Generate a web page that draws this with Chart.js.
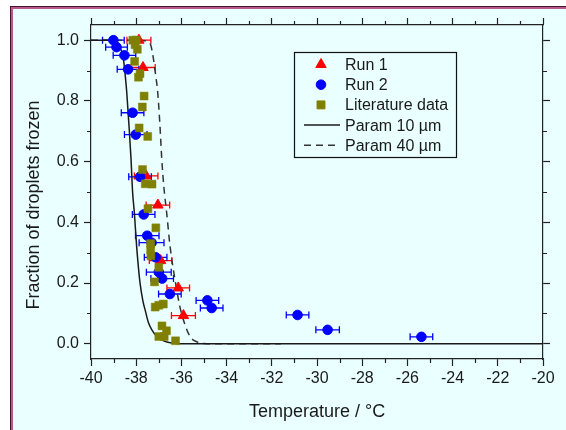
<!DOCTYPE html>
<html>
<head>
<meta charset="utf-8">
<script src="https://cdn.jsdelivr.net/npm/chart.js@4.4.1/dist/chart.umd.min.js"></script>
<style>
  html, body { margin: 0; padding: 0; background: #fff; }
  #wrap { position: relative; width: 566px; height: 430px; overflow: hidden; }
  #frame { position: absolute; left: 10px; top: 6px; right: 0; bottom: 0; background: #EAFFFF;
           border-left: 1px solid #4a1030; border-top: 1px solid #4a1030; }
  #frame div { position: absolute; left: 0; top: 0; right: 0; bottom: 0;
               border-left: 2px solid #b65a8a; border-top: 2px solid #b65a8a; }
  canvas { position: absolute; left: 0; top: 0; }
</style>
</head>
<body>
<div id="wrap">
  <div id="frame"><div></div></div>
  <canvas id="chart" width="566" height="430"></canvas>
</div>
<script>
const run1Temp = [-37.88, -37.70, -37.56, -37.04, -36.92, -36.14, -35.91];
const run1Frac = [1.0, 0.91, 0.553, 0.457, 0.274, 0.184, 0.093];
const run1Err  = [0.53, 0.54, 0.52, 0.52, 0.5, 0.5, 0.53];

const run2Temp = [-39.01, -38.87, -38.52, -38.36, -38.16, -38.02, -37.83, -37.67, -37.51, -37.32,
                  -37.14, -37.0, -36.85, -36.51, -34.85, -34.66, -30.86, -29.53, -25.38];
const run2Frac = [1.0, 0.977, 0.950, 0.904, 0.761, 0.689, 0.550, 0.426, 0.356, 0.333,
                  0.285, 0.236, 0.215, 0.164, 0.143, 0.118, 0.095, 0.046, 0.023];
const run2Err  = [0.48, 0.48, 0.5, 0.48, 0.5, 0.5, 0.5, 0.5, 0.52, 0.55,
                  0.5, 0.55, 0.5, 0.5, 0.5, 0.5, 0.5, 0.52, 0.5];

const litTemp = [-38.15, -38.0, -38.05, -37.95, -38.07, -37.83, -37.9, -37.65, -37.73, -37.87,
                 -37.49, -37.72, -37.6, -37.3, -37.48, -37.13, -37.36, -37.36, -37.35, -37.0,
                 -37.19, -37.16, -37.0, -36.8, -36.86, -36.66, -37.0, -36.76, -36.26];
const litFrac = [1.0, 1.0, 0.985, 0.97, 0.93, 0.89, 0.878, 0.816, 0.78, 0.711,
                 0.683, 0.574, 0.527, 0.526, 0.445, 0.382, 0.33, 0.31, 0.29, 0.252,
                 0.204, 0.121, 0.127, 0.131, 0.059, 0.043, 0.024, 0.024, 0.01];

// parameterisation curves
const param10Temp = [-40, -39.2, -38.95, -38.8, -38.68, -38.57, -38.48, -38.42, -38.32, -38.23,
                     -38.16, -38.08, -37.98, -37.9, -37.83, -37.7, -37.6, -37.46, -37.3, -37.1,
                     -36.85, -36.6, -36.2, -35.5, -20];
const param10Frac = [1.0, 1.0, 0.998, 0.99, 0.97, 0.94, 0.88, 0.83, 0.72, 0.61,
                     0.5, 0.43, 0.32, 0.25, 0.2, 0.14, 0.11, 0.07, 0.045, 0.025,
                     0.012, 0.005, 0.001, 0, 0];

const param40Temp = [-40, -38.0, -37.6, -37.45, -37.36, -37.24, -37.14, -37.05, -36.95, -36.87,
                     -36.78, -36.65, -36.5, -36.28, -36.06, -35.8, -35.59, -35.3, -35.0, -34.5, -31.6];
const param40Frac = [1.0, 1.0, 0.998, 0.993, 0.985, 0.94, 0.885, 0.83, 0.72, 0.61,
                     0.52, 0.43, 0.32, 0.21, 0.12, 0.054, 0.021, 0.006, 0.001, 0, 0];

const xTicks = [-40, -38, -36, -34, -32, -30, -28, -26, -24, -22, -20];
const xMinor = [-39, -37, -35, -33, -31, -29, -27, -25, -23, -21];
const yTicks = [0, 0.2, 0.4, 0.6, 0.8, 1.0];
const yMinor = [0.1, 0.3, 0.5, 0.7, 0.9];

const yTitle = 'Fraction of droplets frozen';

const FONT = '"Liberation Sans", Arial, sans-serif';
const INK = '#1a1a1a';

function toPoints(xs, ys) {
  return xs.map((x, i) => ({ x: x, y: ys[i] }));
}

// horizontal error bars with end caps
const errorBars = {
  id: 'errorBars',
  beforeDatasetsDraw(chart) {
    const { ctx, scales: { x, y } } = chart;
    ctx.save();
    ctx.beginPath();
    ctx.rect(chart.chartArea.left, chart.chartArea.top, chart.chartArea.width, chart.chartArea.height);
    ctx.clip();
    chart.data.datasets.forEach(ds => {
      if (!ds.xErr) return;
      ctx.strokeStyle = ds.borderColor;
      ctx.lineWidth = 1.3;
      ds.data.forEach((p, j) => {
        const x0 = x.getPixelForValue(p.x - ds.xErr[j]);
        const x1 = x.getPixelForValue(p.x + ds.xErr[j]);
        const py = y.getPixelForValue(p.y);
        ctx.beginPath();
        ctx.moveTo(x0, py); ctx.lineTo(x1, py);
        ctx.moveTo(x0, py - 3.5); ctx.lineTo(x0, py + 3.5);
        ctx.moveTo(x1, py - 3.5); ctx.lineTo(x1, py + 3.5);
        ctx.stroke();
      });
    });
    ctx.restore();
  }
};

// short minor ticks on all four sides, plus the y title (sits a bit below centre)
const minorTicks = {
  id: 'minorTicks',
  afterDraw(chart) {
    const { ctx, chartArea: a, scales: { x, y } } = chart;
    ctx.save();
    ctx.strokeStyle = '#222';
    ctx.lineWidth = 1.2;
    ctx.beginPath();
    xMinor.forEach(v => {
      const px = Math.round(x.getPixelForValue(v)) + 0.5;
      ctx.moveTo(px, a.bottom); ctx.lineTo(px, a.bottom + 4);
      ctx.moveTo(px, a.top); ctx.lineTo(px, a.top - 4);
    });
    yMinor.forEach(v => {
      const py = Math.round(y.getPixelForValue(v)) + 0.5;
      ctx.moveTo(a.left, py); ctx.lineTo(a.left - 4, py);
      ctx.moveTo(a.right, py); ctx.lineTo(a.right + 4, py);
    });
    ctx.stroke();

    ctx.translate(34, 205);
    ctx.rotate(-Math.PI / 2);
    ctx.font = '18px ' + FONT;
    ctx.fillStyle = INK;
    ctx.textAlign = 'center';
    ctx.textBaseline = 'middle';
    ctx.fillText(yTitle, 0, 0);
    ctx.restore();
  }
};

// boxed legend inside the plot
const boxLegend = {
  id: 'boxLegend',
  afterDraw(chart) {
    const ctx = chart.ctx;
    ctx.save();
    ctx.fillStyle = '#EAFFFF';
    ctx.fillRect(294.5, 52.5, 162, 105);
    ctx.strokeStyle = '#111';
    ctx.lineWidth = 1.2;
    ctx.strokeRect(294.5, 52.5, 162, 105);
    ctx.font = '16px ' + FONT;
    ctx.textBaseline = 'middle';
    chart.data.datasets.forEach((ds, i) => {
      const cy = 64.5 + i * 20.2;
      if (ds.showLine) {
        ctx.strokeStyle = ds.borderColor;
        ctx.lineWidth = ds.borderWidth;
        ctx.setLineDash(ds.borderDash || []);
        ctx.beginPath();
        ctx.moveTo(304, cy); ctx.lineTo(340, cy);
        ctx.stroke();
        ctx.setLineDash([]);
      } else {
        ctx.fillStyle = ds.backgroundColor;
        ctx.strokeStyle = ds.borderColor;
        ctx.lineWidth = 1;
        Chart.helpers.drawPoint(ctx, { pointStyle: ds.pointStyle, radius: ds.pointRadius, rotation: 0, borderWidth: 1 }, 321, cy);
      }
      ctx.fillStyle = INK;
      ctx.fillText(ds.label, 345, cy + 1);
    });
    ctx.restore();
  }
};

function linearAxis(pos, min, max, ticks, size) {
  const horizontal = pos === 'top' || pos === 'bottom';
  return {
    type: 'linear',
    position: pos,
    min: min,
    max: max,
    afterBuildTicks: s => { s.ticks = ticks.map(v => ({ value: v })); },
    afterFit: s => { if (horizontal) s.height = size; else s.width = size; },
    grid: { drawOnChartArea: false, drawTicks: true, tickLength: 7, tickColor: '#222', tickWidth: 1.2 },
    border: { display: true, color: '#222', width: 1.2 },
    ticks: { display: false }
  };
}

const xAxis = linearAxis('bottom', -40, -20, xTicks, 71);
xAxis.ticks = { display: true, font: { family: FONT, size: 16 }, color: INK, padding: 3, maxRotation: 0, autoSkip: false };
xAxis.title = { display: true, text: 'Temperature / °C', font: { family: FONT, size: 18 }, color: INK, padding: { top: 0, bottom: 7 } };

const yAxis = linearAxis('left', -0.05, 1.05, yTicks, 91);
yAxis.ticks = { display: true, font: { family: FONT, size: 16 }, color: INK, padding: 5, autoSkip: false,
                callback: v => v.toFixed(1) };

new Chart(document.getElementById('chart'), {
  type: 'scatter',
  data: {
    datasets: [
      { label: 'Run 1', data: toPoints(run1Temp, run1Frac), xErr: run1Err, pointStyle: 'triangle', pointRadius: 6,
        backgroundColor: '#FF0000', borderColor: '#FF0000', borderWidth: 1, order: 2 },
      { label: 'Run 2', data: toPoints(run2Temp, run2Frac), xErr: run2Err, pointStyle: 'circle', pointRadius: 4.8,
        backgroundColor: '#0000FF', borderColor: '#0000FF', borderWidth: 1, order: 1 },
      { label: 'Literature data', data: toPoints(litTemp, litFrac), pointStyle: 'rect', pointRadius: 5.6,
        backgroundColor: '#808000', borderColor: '#808000', borderWidth: 0.5, order: 0 },
      { label: 'Param 10 µm', data: toPoints(param10Temp, param10Frac), showLine: true, pointRadius: 0,
        borderColor: '#1a1a1a', borderWidth: 1.5, cubicInterpolationMode: 'monotone', order: 3 },
      { label: 'Param 40 µm', data: toPoints(param40Temp, param40Frac), showLine: true, pointRadius: 0,
        borderColor: '#333', borderWidth: 1.5, borderDash: [7, 5], cubicInterpolationMode: 'monotone', order: 4 }
    ]
  },
  options: {
    responsive: false,
    animation: false,
    layout: { padding: 0 },
    scales: {
      x: xAxis,
      x2: linearAxis('top', -40, -20, xTicks, 25),
      y: yAxis,
      y2: linearAxis('right', -0.05, 1.05, yTicks, 23)
    },
    plugins: {
      legend: { display: false },
      tooltip: { enabled: false }
    }
  },
  plugins: [errorBars, minorTicks, boxLegend]
});
</script>
</body>
</html>
